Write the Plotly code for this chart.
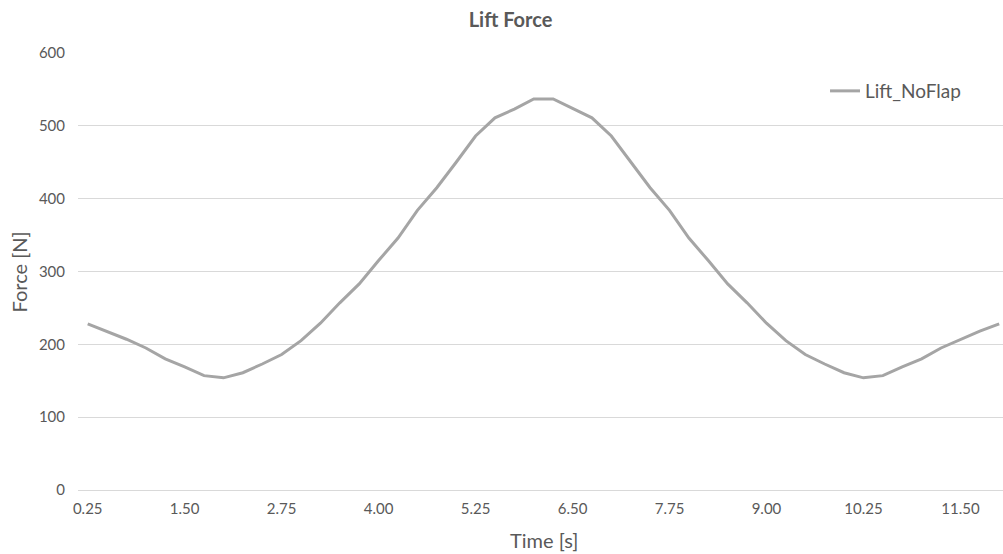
import plotly.graph_objects as go

# Sample times [s] and lift force [N] for the no-flap case
time_s = [0.25, 0.50, 0.75, 1.00, 1.25, 1.50, 1.75, 2.00, 2.25, 2.50, 2.75, 3.00,
          3.25, 3.50, 3.75, 4.00, 4.25, 4.50, 4.75, 5.00, 5.25, 5.50, 5.75, 6.00,
          6.25, 6.50, 6.75, 7.00, 7.25, 7.50, 7.75, 8.00, 8.25, 8.50, 8.75, 9.00,
          9.25, 9.50, 9.75, 10.00, 10.25, 10.50, 10.75, 11.00, 11.25, 11.50, 11.75, 12.00]
lift_noflap = [228, 218, 207, 195, 180, 169, 157, 154, 161, 173, 186, 205,
               229, 257, 283, 315, 346, 384, 415, 450, 486, 511, 523, 537,
               537, 524, 511, 486, 450, 415, 384, 346, 315, 283, 257, 229,
               205, 186, 173, 161, 154, 157, 169, 180, 195, 207, 218, 228]

x_ticks = [0.25, 1.50, 2.75, 4.00, 5.25, 6.50, 7.75, 9.00, 10.25, 11.50]
y_ticks = [0, 100, 200, 300, 400, 500, 600]

FONT = "Lato"
TXT = "#595959"
GRID = "#D9D9D9"

fig = go.Figure()
fig.add_trace(go.Scatter(
    x=time_s, y=lift_noflap, mode="lines", name="Lift_NoFlap",
    line=dict(color="#A5A5A5", width=3),
))

fig.update_layout(
    width=1003, height=554,
    margin=dict(l=78, r=0, t=53, b=64),
    paper_bgcolor="white", plot_bgcolor="white",
    font=dict(family=FONT, color=TXT),
    title=dict(text="<b>Lift Force</b>", x=0.509, xanchor="center",
               xref="container", y=0.964, yref="container", yanchor="middle",
               font=dict(size=20, color=TXT, family=FONT)),
    showlegend=True,
    legend=dict(x=0.8076, xanchor="left", y=0.913, yanchor="middle",
                font=dict(size=19, color=TXT, family=FONT),
                bgcolor="rgba(0,0,0,0)", itemwidth=30),
    xaxis=dict(
        range=[0.125, 12.049], tickvals=x_ticks, tickformat=".2f",
        showgrid=False, zeroline=False, showline=False, ticks="",
        ticklabelstandoff=8,
        tickfont=dict(size=15, color=TXT, family=FONT),
    ),
    yaxis=dict(
        range=[0, 600], tickvals=y_ticks, showgrid=True, gridcolor=GRID,
        gridwidth=1, zeroline=True, zerolinecolor=GRID, zerolinewidth=1,
        showline=False, ticks="", ticklabelstandoff=12,
        tickfont=dict(size=15, color=TXT, family=FONT),
    ),
    annotations=[
        dict(text="Time [s]", xref="paper", yref="paper", x=0.504, y=-0.115,
             xanchor="center", yanchor="middle", showarrow=False,
             font=dict(size=20, color=TXT, family=FONT)),
        dict(text="Force [N]", xref="paper", yref="paper", x=-0.0638, y=0.5,
             xanchor="center", yanchor="middle", showarrow=False, textangle=-90,
             font=dict(size=20, color=TXT, family=FONT)),
    ],
)

fig.write_html("out.html")
